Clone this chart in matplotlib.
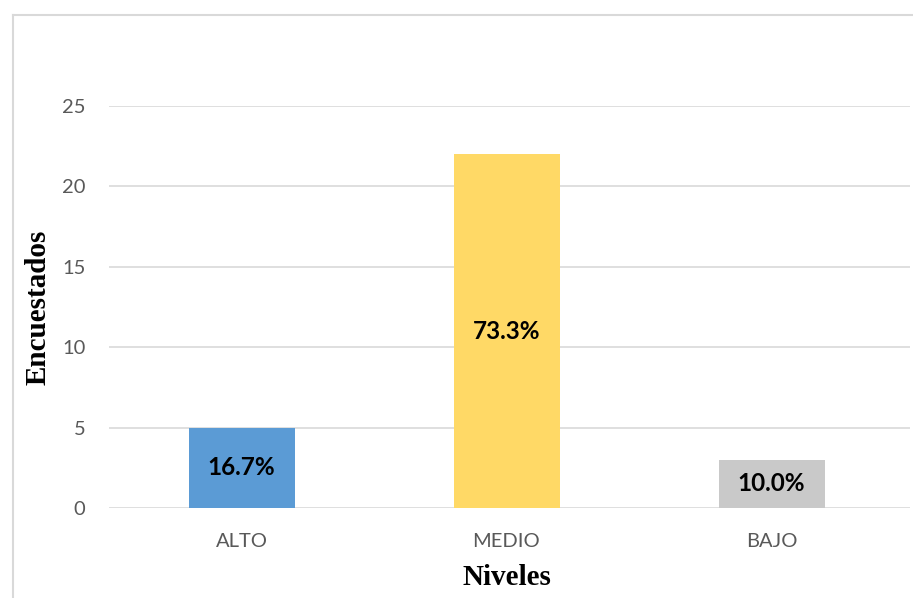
import matplotlib.pyplot as plt
from matplotlib.lines import Line2D

# data
niveles = ['ALTO', 'MEDIO', 'BAJO']
encuestados = [5, 22, 3]
porcentajes = ['16.7%', '73.3%', '10.0%']
colores = ['#5B9BD5', '#FFD966', '#C9C9C9']

fig = plt.figure(figsize=(9.13, 5.98), dpi=100)
ax = fig.add_axes([109 / 913, 90 / 598, 801 / 913, 402 / 598])

x = range(len(niveles))
bars = ax.bar(x, encuestados, width=0.40, color=colores, zorder=3)

# percentage labels in the middle of each bar
for b, txt in zip(bars, porcentajes):
    ax.text(b.get_x() + b.get_width() / 2, b.get_height() / 2, txt,
            ha='center', va='center', fontsize=17.5, fontweight='bold',
            family='Lato', color='black', zorder=4)

# gridlines run a little past the last category
ax.set_xlim(-0.5, 2.5 + 6 / 265)
ax.set_ylim(0, 25)
ax.set_yticks([0, 5, 10, 15, 20, 25])
ax.set_xticks(list(x))
ax.set_xticklabels(niveles)
ax.grid(axis='y', color='#D9D9D9', linewidth=1.2, zorder=0)
ax.set_axisbelow(True)
for s in ax.spines.values():
    s.set_visible(False)
ax.tick_params(length=0, labelsize=14.5, labelcolor='#595959')
ax.tick_params(axis='x', pad=18)
ax.tick_params(axis='y', pad=17)
for lbl in ax.get_xticklabels() + ax.get_yticklabels():
    lbl.set_family('Lato')

ax.set_xlabel('Niveles', family='Liberation Serif', fontweight='bold',
              fontsize=21)
ax.set_ylabel('Encuestados', family='Liberation Serif', fontweight='bold',
              fontsize=21)
ax.xaxis.set_label_coords(0.5 * 795 / 801, -0.174)
ax.yaxis.set_label_coords(-0.0886, 0.5)
ax.xaxis.label.set_va('center')
ax.yaxis.label.set_va('center')

# chart frame (cropped at right and bottom)
fig.add_artist(Line2D([12.5 / 913, 12.5 / 913], [0, 583 / 598],
                      transform=fig.transFigure, color='#D9D9D9', lw=1.5))
fig.add_artist(Line2D([12.5 / 913, 1], [583 / 598, 583 / 598],
                      transform=fig.transFigure, color='#D9D9D9', lw=1.5))

fig.savefig('out.png', dpi=100)
